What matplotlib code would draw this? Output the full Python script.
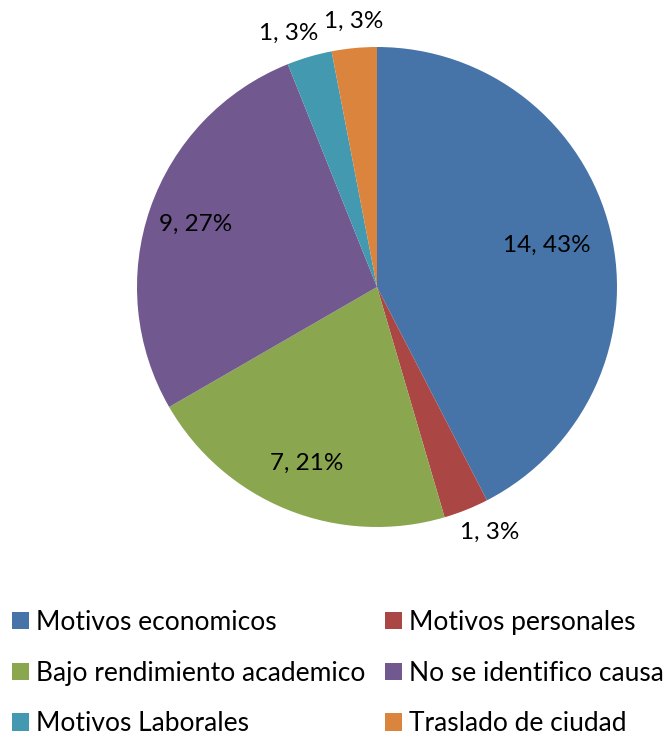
import matplotlib.pyplot as plt
import numpy as np

plt.rcParams['font.family'] = ['Lato', 'DejaVu Sans']

categories = ['Motivos economicos', 'Motivos personales',
              'Bajo rendimiento academico', 'No se identifico causa',
              'Motivos Laborales', 'Traslado de ciudad']
counts = [14, 1, 7, 9, 1, 1]
pct_labels = ['43%', '3%', '21%', '27%', '3%', '3%']
colors = ['#4674A8', '#AA4643', '#8AA64F', '#71588F', '#4299B0', '#DB843D']

# label placement (radius, x nudge) per slice
label_dist = [0.73, 1.10, 0.79, 0.80, 1.10, 1.11]
label_dx = [0.0, 0.06, 0.0, 0.0, -0.06, 0.01]

W, H = 672, 736
fig = plt.figure(figsize=(W / 100, H / 100), dpi=100)
cx, cy, r = 377, 287, 240
ax = fig.add_axes([(cx - r) / W, (H - cy - r) / H, 2 * r / W, 2 * r / H])

wedges, _ = ax.pie(counts, colors=colors, startangle=90, counterclock=False,
                   radius=1, wedgeprops=dict(linewidth=0))
ax.set_xlim(-1, 1)
ax.set_ylim(-1, 1)
ax.set_aspect('equal')
ax.axis('off')

for w, n, p, d, dx in zip(wedges, counts, pct_labels, label_dist, label_dx):
    ang = np.deg2rad((w.theta1 + w.theta2) / 2)
    ax.text(d * np.cos(ang) + dx, d * np.sin(ang), '%d, %s' % (n, p),
            ha='center', va='center', fontsize=17.5, color='black',
            clip_on=False)

# excel fills the legend row by row
order = [0, 2, 4, 1, 3, 5]
fig.legend([wedges[i] for i in order], [categories[i] for i in order],
           loc='upper left', ncol=2,
           bbox_to_anchor=(12 / W, 1 - 610 / H), frameon=False,
           fontsize=19, handlelength=0.64, handleheight=0.64,
           handletextpad=0.27, columnspacing=0.76, labelspacing=0.97,
           borderpad=0, borderaxespad=0)

fig.savefig('out.png', dpi=100)
